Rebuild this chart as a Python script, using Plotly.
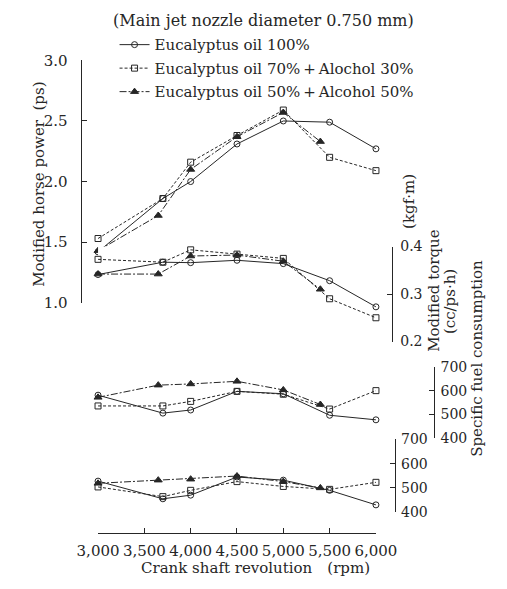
import plotly.graph_objects as go

# ---------------- data ----------------
rpm = [3000, 3700, 4000, 4500, 5000, 5500, 6000]
rpm_50 = [3000, 3650, 4000, 4500, 5000, 5400]
rpm_ticks = [3000, 3500, 4000, 4500, 5000, 5500, 6000]
rpm_tick_text = ["3,000", "3,500", "4,000", "4,500", "5,000", "5,500", "6,000"]

series_names = [
    "Eucalyptus oil 100%",
    "Eucalyptus oil 70%\u2009+\u2009Alochol 30%",
    "Eucalyptus oil 50%\u2009+\u2009Alcohol 50%",
]

# Modified horse power (ps)
hp_100 = [1.42, 1.86, 2.00, 2.31, 2.50, 2.49, 2.27]
hp_70 = [1.53, 1.86, 2.16, 2.38, 2.59, 2.20, 2.09]
hp_50 = [1.43, 1.72, 2.10, 2.37, 2.57, 2.33]

# Modified torque (kgf·m)
tq_100 = [0.341, 0.367, 0.366, 0.371, 0.364, 0.328, 0.273]
tq_70 = [0.373, 0.367, 0.393, 0.384, 0.375, 0.290, 0.250]
tq_50 = [0.342, 0.342, 0.380, 0.382, 0.369, 0.310]

# Specific fuel consumption (cc/ps·h), upper block
sfc1_100 = [581, 506, 519, 597, 587, 497, 478]
sfc1_70 = [536, 536, 555, 597, 585, 523, 600]
sfc1_50 = [572, 623, 628, 639, 603, 542]

# Specific fuel consumption, lower block
sfc2_100 = [528, 455, 470, 545, 532, 490, 430]
sfc2_70 = [504, 464, 490, 526, 506, 494, 523]
sfc2_50 = [519, 532, 536, 549, 526, 500]

# ---------------- layout helpers ----------------
W, H = 507, 589
FONT = "DejaVu Serif"
INK = "#262626"


def px(x):
    return x / W


def py(y):
    return 1 - y / H


styles = [
    dict(dash="solid", symbol="circle-open", size=6),
    dict(dash="3px,2px", symbol="square-open", size=6),
    dict(dash="7px,2px,2px,2px", symbol="triangle-up", size=7),
]

xs_all = [rpm, rpm, rpm_50]
blocks = [
    ("y", [hp_100, hp_70, hp_50]),
    ("y2", [tq_100, tq_70, tq_50]),
    ("y3", [sfc1_100, sfc1_70, sfc1_50]),
    ("y4", [sfc2_100, sfc2_70, sfc2_50]),
]

fig = go.Figure()
for bi, (yref, ys) in enumerate(blocks):
    for si in range(3):
        st = styles[si]
        fig.add_trace(go.Scatter(
            x=xs_all[si], y=ys[si], xaxis="x", yaxis=yref,
            mode="lines+markers",
            name=series_names[si],
            legendgroup=f"s{si}",
            showlegend=(bi == 0),
            cliponaxis=False,
            line=dict(color=INK, width=1, dash=st["dash"]),
            marker=dict(symbol=st["symbol"], size=st["size"], color=INK,
                        line=dict(color=INK, width=1)),
        ))

tickfont = dict(family=FONT, size=15, color=INK)
tickfont_r = dict(family=FONT, size=14, color=INK)
common_y = dict(anchor="free", showgrid=False, zeroline=False, showline=True,
                linecolor=INK, linewidth=1, ticks="inside", ticklen=5,
                tickcolor=INK, fixedrange=True)

fig.update_layout(
    width=W, height=H,
    margin=dict(l=0, r=0, t=0, b=0),
    paper_bgcolor="white", plot_bgcolor="white",
    font=dict(family=FONT, color=INK),
    xaxis=dict(domain=[px(84), px(387)], range=[3000, 6000], anchor="free",
               position=py(541), showgrid=False, zeroline=False, showline=True,
               linecolor=INK, linewidth=1, ticks="inside", ticklen=5,
               tickcolor=INK, tickvals=rpm_ticks, ticktext=rpm_tick_text,
               tickfont=tickfont, ticklabelstandoff=4),
    yaxis=dict(domain=[py(303), py(53)], range=[1.0, 3.0], position=px(65),
               side="left", tickvals=[1.0, 1.5, 2.0, 2.5, 3.0], tickformat=".1f",
               ticklabelstandoff=10, tickfont=tickfont, **common_y),
    yaxis2=dict(domain=[py(343), py(245)], range=[0.2, 0.4], position=px(405),
                side="right", tickvals=[0.2, 0.3, 0.4], tickformat=".1f",
                ticklabelstandoff=4, tickfont=tickfont_r, **common_y),
    yaxis3=dict(domain=[py(443), py(369)], range=[400, 700], position=px(450),
                side="right", tickvals=[400, 500, 600, 700],
                ticklabelstandoff=3, tickfont=tickfont_r, **common_y),
    yaxis4=dict(domain=[py(519), py(444)], range=[400, 700], position=px(408),
                side="right", tickvals=[400, 500, 600, 700],
                ticklabelstandoff=2, tickfont=tickfont_r, **common_y),
    legend=dict(x=px(102), y=py(20), xanchor="left", yanchor="top",
                font=dict(family=FONT, size=15, color=INK),
                bgcolor="rgba(0,0,0,0)", tracegroupgap=1, itemwidth=30),
    showlegend=True,
)

ann_font = dict(family=FONT, size=15, color=INK)
annotations = [
    dict(text="(Main jet nozzle diameter 0.750 mm)", x=px(264), y=py(12),
         font=dict(family=FONT, size=16, color=INK)),
    dict(text="Modified horse power  (ps)", x=px(20), y=py(181), textangle=-90),
    dict(text="(kgf\u00b7m)", x=px(423), y=py(198), textangle=-90),
    dict(text="Modified torque", x=px(450), y=py(290), textangle=-90),
    dict(text="(cc/ps\u00b7h)", x=px(467), y=py(302), textangle=-90),
    dict(text="Specific fuel consumption", x=px(497), y=py(360), textangle=-90),
    dict(text="Crank shaft revolution\u2003(rpm)", x=px(256), y=py(577)),
]
for a in annotations:
    a.setdefault("font", ann_font)
    fig.add_annotation(xref="paper", yref="paper", showarrow=False,
                       xanchor="center", yanchor="middle", **a)

fig.write_html("out.html")
